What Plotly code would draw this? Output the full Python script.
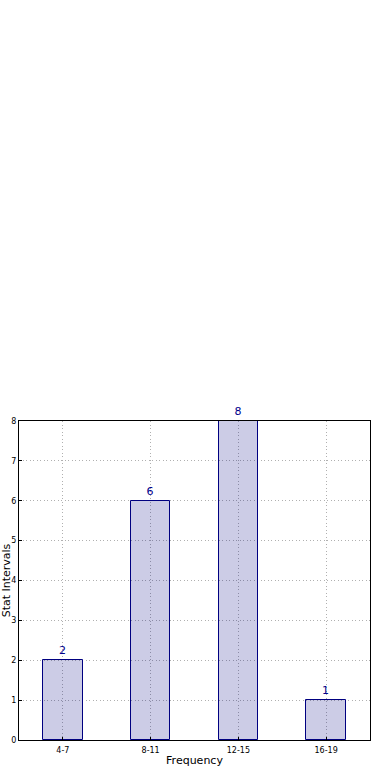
import plotly.graph_objects as go

categories = ["4-7", "8-11", "12-15", "16-19"]
values = [2, 6, 8, 1]
y_ticks = [0, 1, 2, 3, 4, 5, 6, 7, 8]

fig = go.Figure()
fig.add_trace(go.Bar(
    x=categories, y=values, width=0.45,
    marker=dict(color="rgba(0,0,128,0.2)", line=dict(color="#000080", width=1)),
    text=[str(v) for v in values], textposition="outside",
    textfont=dict(family="DejaVu Sans", size=11, color="#00008b"),
    cliponaxis=False,
))
fig.update_layout(
    width=390, height=780,
    margin=dict(l=19, r=20, t=421, b=40, autoexpand=False),
    paper_bgcolor="white", plot_bgcolor="white",
    showlegend=False, bargap=0,
    font=dict(family="DejaVu Sans", color="black"),
)
grid = dict(showgrid=True, gridcolor="#b0b0b0", griddash="1.2px,2.3px", gridwidth=1,
            showline=True, linecolor="black", linewidth=1, mirror=True,
            ticks="inside", ticklen=3, tickcolor="black", zeroline=False,
            automargin=False,
            tickfont=dict(size=8, family="DejaVu Sans"))
fig.update_xaxes(range=[-0.5, 3.5], ticklabelstandoff=2,
                 title=dict(text="Frequency", font=dict(size=11), standoff=2), **grid)
fig.update_yaxes(range=[0, 8], tickvals=y_ticks,
                 title=dict(text="Stat Intervals", font=dict(size=11), standoff=0), **grid)
fig.write_html("out.html", config={"displayModeBar": False},
               post_script="document.body.style.margin='0';")
